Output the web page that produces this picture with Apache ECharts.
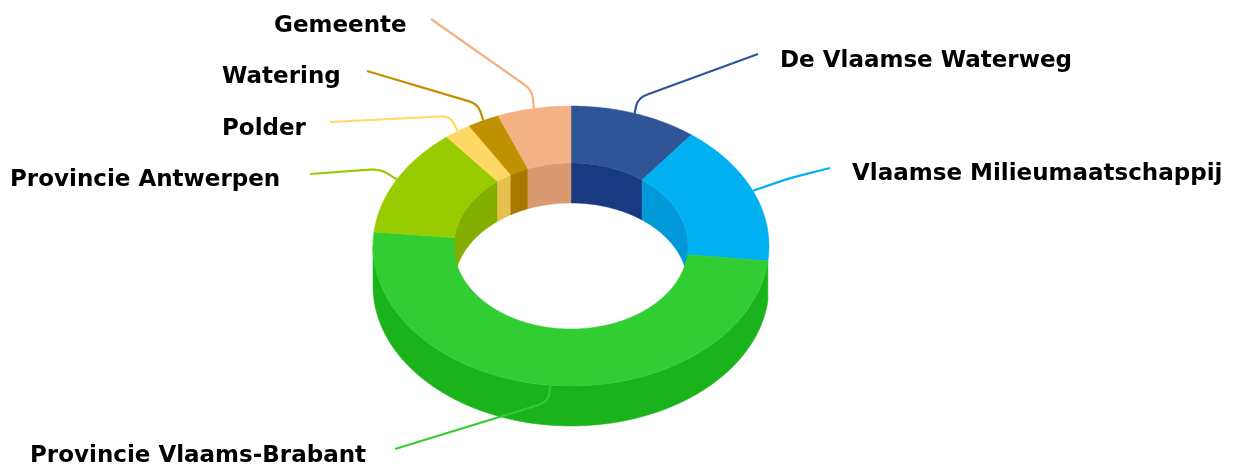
<!DOCTYPE html>
<html>
<head>
<meta charset="utf-8">
<style>
    html, body {margin: 0; padding: 0; background: #fff;}
    #chart {width: 1239px; height: 466px;}
</style>
<script src="https://cdn.jsdelivr.net/npm/echarts@6/dist/echarts.min.js"></script>
</head>
<body>
<div id="chart"></div>
<script>
var names = ['De Vlaamse Waterweg', 'Vlaamse Milieumaatschappij', 'Provincie Vlaams-Brabant',
    'Provincie Antwerpen', 'Polder', 'Watering', 'Gemeente'];
var shares = [10.4, 16.3, 49.9, 12.6, 2.2, 2.6, 6];

var topColors = ['#2F5597', '#00B0F0', '#32CD32', '#99CC00', '#FFD966', '#BF9000', '#F4B183'];
var wallColors = ['#193A80', '#0098D6', '#1BB31B', '#84AF00', '#E6C04F', '#A87700', '#DA9A6F'];

// label anchor and the bend of the leader line
var labelPos = [[780, 61], [852, 174], [30, 456], [10, 180], [222, 129], [222, 77], [274, 26]];
var lineEnd = [[758, 54], [830, 168], [395, 449], [310, 174], [330, 122], [367, 71], [431, 19]];
var lineBend = [[638, 98], [790, 178], [548, 402], [380, 169], [450, 116], [478, 104], [532, 90]];

var cx = 571, cy = 246, rx = 198, ry = 140, irx = 117, iry = 83, depth = 40;

var total = shares.reduce(function (a, b) {
    return a + b;
}, 0);

function angles(i) {
    var before = 0;
    for (var k = 0; k < i; k++) {
        before += shares[k];
    }
    return [before / total * 360, (before + shares[i]) / total * 360];
}

// 0 degrees is the top of the ring, going clockwise
function pt(a, hr, vr, dy) {
    var r = a * Math.PI / 180;
    return [cx + hr * Math.sin(r), cy - vr * Math.cos(r) + dy];
}

function arc(a, b, hr, vr, dy) {
    var pts = [];
    var n = Math.max(2, Math.ceil(Math.abs(b - a) * 2));
    for (var i = 0; i <= n; i++) {
        pts.push(pt(a + (b - a) * i / n, hr, vr, dy));
    }
    return pts;
}

function poly(points, color) {
    return {
        type: 'polygon',
        shape: {points: points},
        style: {fill: color, stroke: color, lineWidth: 0.5}
    };
}

function renderInner(params) {
    var i = params.dataIndex, s = angles(i), a = s[0], b = s[1];
    if (a < 90) {
        b = Math.min(b, 90);
    } else if (b > 270) {
        a = Math.max(a, 270);
    } else {
        return {type: 'group', children: []};
    }
    return poly(arc(a, b, irx, iry, 0).concat(arc(b, a, irx, iry, depth)), wallColors[i]);
}

// only the slice facing the viewer gets an outer wall
function renderOuter(params) {
    var i = params.dataIndex, s = angles(i);
    var mid = (s[0] + s[1]) / 2;
    if (mid < 90 || mid > 270) {
        return {type: 'group', children: []};
    }
    var a = Math.max(s[0], 90), b = Math.min(s[1], 270);
    return poly(arc(a, b, rx, ry, 0).concat(arc(b, a, rx, ry, depth)), wallColors[i]);
}

function renderTop(params) {
    var i = params.dataIndex, s = angles(i);
    return poly(arc(s[0], s[1], rx, ry, 0).concat(arc(s[1], s[0], irx, iry, 0)), topColors[i]);
}

function towards(from, to, dist) {
    var dx = to[0] - from[0], dy = to[1] - from[1];
    var len = Math.sqrt(dx * dx + dy * dy);
    return [from[0] + dx / len * dist, from[1] + dy / len * dist];
}

function renderLabel(params) {
    var i = params.dataIndex, s = angles(i);
    var p = pt((s[0] + s[1]) / 2, rx, ry, 0);
    var m = lineBend[i], e = lineEnd[i];
    var c1 = towards(m, p, 8), c2 = towards(m, e, 10);
    var d = 'M' + p[0] + ' ' + p[1] +
        ' L' + c1[0] + ' ' + c1[1] +
        ' Q' + m[0] + ' ' + m[1] + ' ' + c2[0] + ' ' + c2[1] +
        ' L' + e[0] + ' ' + e[1];
    return {
        type: 'group',
        children: [{
            type: 'path',
            shape: {pathData: d},
            style: {fill: 'none', stroke: topColors[i], lineWidth: 2.2}
        }, {
            type: 'text',
            x: labelPos[i][0],
            y: labelPos[i][1],
            style: {
                text: names[i],
                fill: '#000',
                font: 'bold 23px "DejaVu Sans"',
                textAlign: 'left',
                textVerticalAlign: 'middle'
            }
        }]
    };
}

var seriesData = shares.map(function (v, i) {
    return [i, v];
});

function layer(fn, z) {
    return {
        type: 'custom',
        coordinateSystem: 'none',
        renderItem: fn,
        data: seriesData,
        z: z,
        silent: true,
        animation: false
    };
}

var myChart = echarts.init(document.getElementById('chart'));
myChart.setOption({
    animation: false,
    backgroundColor: '#fff',
    series: [
        layer(renderInner, 1),
        layer(renderOuter, 2),
        layer(renderTop, 3),
        layer(renderLabel, 4)
    ]
});
</script>
</body>
</html>
